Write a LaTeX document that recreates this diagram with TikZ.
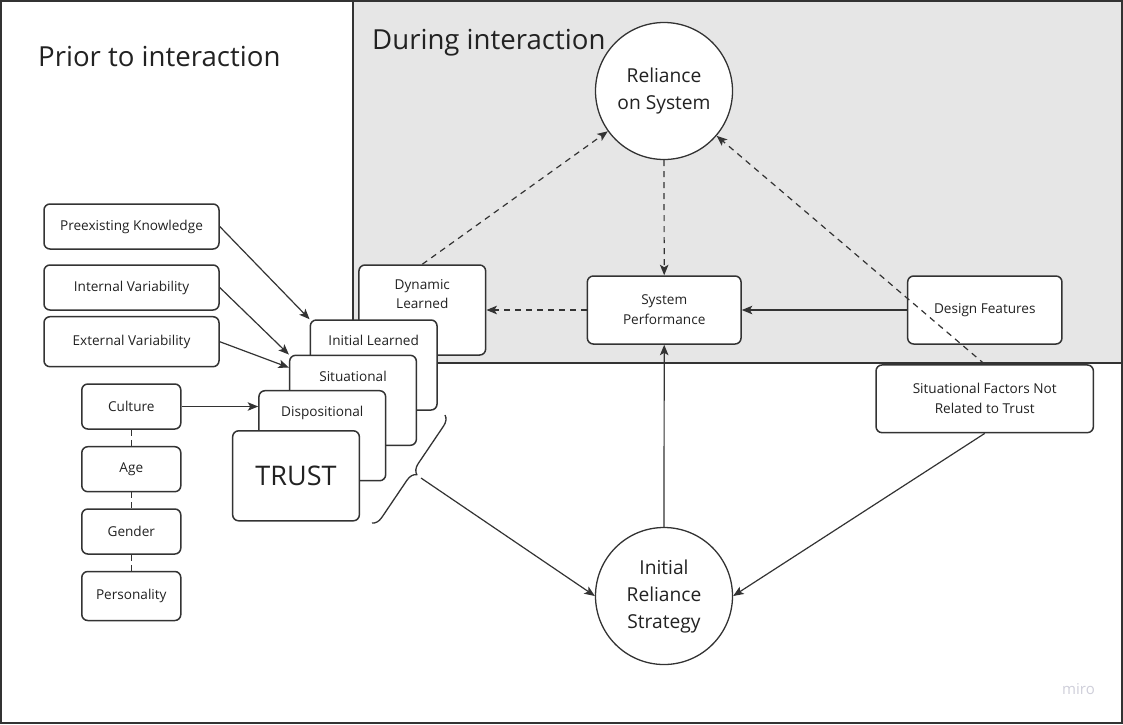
\documentclass[tikz,border=0pt]{standalone}
\usepackage{fontspec}
\setmainfont{Open Sans}
\usetikzlibrary{arrows.meta,calc,decorations.pathreplacing}
\definecolor{ink}{HTML}{333333}
\definecolor{txt}{HTML}{222222}
\definecolor{panel}{HTML}{E6E6E6}
\definecolor{wmark}{HTML}{CFCFDA}
\begin{document}
\begin{tikzpicture}[x=1pt,y=-1pt,
  box/.style={draw=ink,line width=1.5pt,fill=white,rounded corners=6pt,inner sep=0pt,
    align=center,text=txt,font=\fontsize{13.6}{20}\selectfont},
  card/.style={box,minimum width=126.7pt,minimum height=90pt},
  cardtext/.style={inner sep=0pt,align=center,text=txt,font=\fontsize{13.6}{19}\selectfont},
  bubble/.style={circle,draw=ink,line width=1.3pt,fill=white,minimum size=137pt,inner sep=0pt,
    align=center,text=txt,font=\fontsize{19.2}{27}\selectfont},
  link/.style={draw=ink,line width=1.2pt,-{Stealth[length=10.5pt,width=8.5pt,inset=2.5pt]}},
  dlink/.style={link,dash pattern=on 6pt off 5pt},
  tie/.style={draw=ink,line width=1.2pt,dash pattern=on 6pt off 4pt},
  title/.style={inner sep=0pt,text=txt,font=\fontsize{27.6}{32}\selectfont}
]
\useasboundingbox (0,0) rectangle (1123,724);

% frame and the shaded "during interaction" panel
\draw[ink,line width=1.5pt,fill=white] (1,1) rectangle (1122,723);
\draw[ink,line width=1.5pt,fill=panel] (353,1) rectangle (1122,363);

\node[title,anchor=base west] (prior) at (38,66) {Prior to interaction};
\node[title,anchor=base west] (during) at (372,49) {During interaction};

% prior factors
\node[box,minimum width=175pt,minimum height=45pt] (pk) at (131.5,226.5) {Preexisting Knowledge};
\node[box,minimum width=175pt,minimum height=45pt] (iv) at (131.5,287.5) {Internal Variability};
\node[box,minimum width=175pt,minimum height=50pt] (ev) at (131.5,341.7) {External Variability};
\node[box,minimum width=99pt,minimum height=45pt] (cul) at (131.3,406.5) {Culture};
\node[box,minimum width=99pt,minimum height=45pt] (age) at (131.3,469.2) {Age};
\node[box,minimum width=99pt,minimum height=45pt] (gen) at (131.3,531.5) {Gender};
\node[box,minimum width=99pt,minimum height=49pt] (per) at (131.3,596) {Personality};

% stacked trust cards
\node[card] (dyn) at (422.3,310) {};
\node[cardtext] (dynt) at (422.3,294.5) {Dynamic\\Learned};
\node[card] (il) at (373.7,365) {};
\node[cardtext,anchor=base] (ilt) at (373.7,345.5) {Initial Learned};
\node[card] (sit) at (353,400.3) {};
\node[cardtext,anchor=base] (sitt) at (353,381) {Situational};
\node[card] (dis) at (322.3,435.7) {};
\node[cardtext,anchor=base] (dist) at (322.3,416.5) {Dispositional};
\node[card,font=\fontsize{27}{32}\selectfont] (trust) at (296,475.8) {TRUST};

% reliance and performance
\node[bubble] (rel) at (664,91) {Reliance\\on System};
\node[bubble] (irs) at (664,596) {Initial\\Reliance\\Strategy};
\node[box,minimum width=153.7pt,minimum height=68pt] (sp) at (664.2,310) {System\\Performance};
\node[box,minimum width=154.3pt,minimum height=68pt] (df) at (984.8,310) {Design Features};
\node[box,minimum width=217.3pt,minimum height=67.7pt] (sf) at (984.7,398.8) {Situational Factors Not\\Related to Trust};

\node[inner sep=0pt,text=wmark,font=\fontsize{15}{17}\selectfont] (wm) at (1078.5,689) {miro};

% connectors
\draw[link] (pk.east) -- (il.north west);
\draw[link] (iv.east) -- (sit.north west);
\coordinate (evin) at ($(sit.north west)+(0,13)$);
\draw[link] (ev.east) -- (evin);
\draw[link] (cul.east) -- (cul.east -| dis.west);
\draw[tie] (cul.south) -- (age.north);
\draw[tie] (age.south) -- (gen.north);
\draw[tie] (gen.south) -- (per.north);

\coordinate (brtop) at (445,415);
\coordinate (brbot) at (372,523);
\draw[ink,line width=1.3pt,decorate,decoration={brace,amplitude=10pt}] (brtop) -- (brbot);
\coordinate (brtip) at (421,478);
\draw[link] (brtip) -- (irs.west);

\draw[dlink] (dyn.north) -- (rel);
\draw[dlink] (rel.south) -- (sp.north);
\draw[dlink] (sp.west) -- (dyn.east);
\draw[link] (df.west) -- (sp.east);
\draw[dlink] (sf.north) -- (rel);
\draw[link] (irs.north) -- (sp.south);
\draw[link] (sf.south) -- (irs.east);
\end{tikzpicture}
\end{document}
